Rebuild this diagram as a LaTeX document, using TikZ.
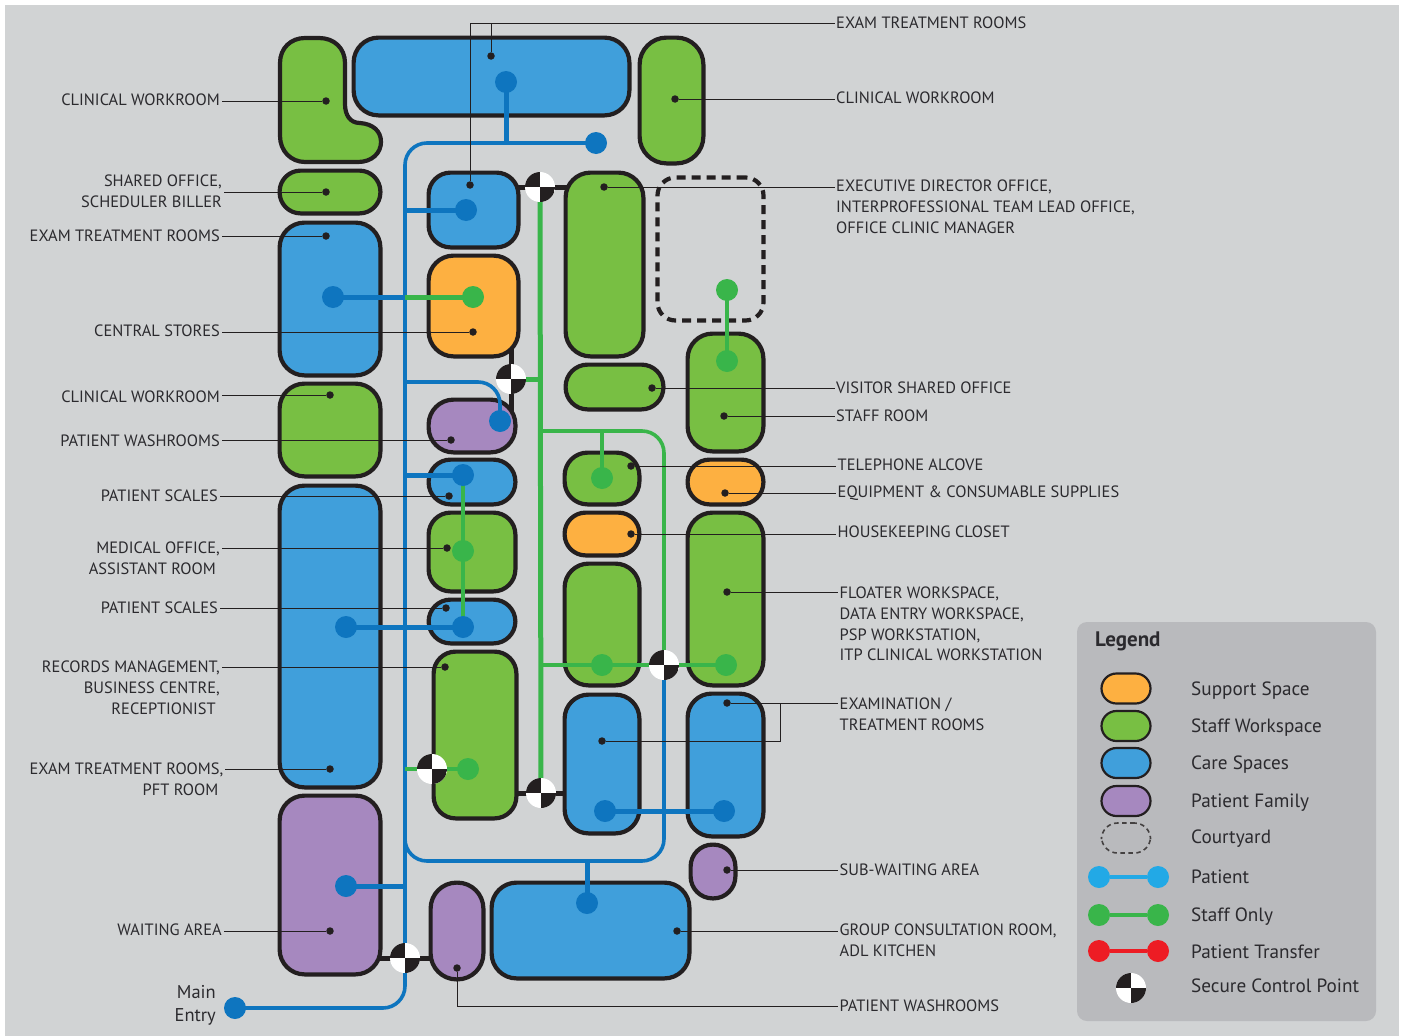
\documentclass[tikz,border=0pt]{standalone}
\usepackage{fontspec}
\setmainfont{PT Sans}
\usetikzlibrary{calc}
\definecolor{bgc}{HTML}{D1D3D4}
\definecolor{ink}{HTML}{231F20}
\definecolor{txt}{HTML}{2B2A2E}
\definecolor{gspace}{HTML}{78BF43}
\definecolor{bspace}{HTML}{409FDB}
\definecolor{ospace}{HTML}{FDB041}
\definecolor{pspace}{HTML}{A688BF}
\definecolor{bline}{HTML}{0E75BF}
\definecolor{gline}{HTML}{39B54A}
\definecolor{cyan}{HTML}{22A9E6}
\definecolor{redl}{HTML}{ED1C24}
\definecolor{legbg}{HTML}{B9BABD}
\pgfdeclarelayer{stubs}\pgfdeclarelayer{rooms}\pgfdeclarelayer{conn}
\pgfsetlayers{stubs,rooms,conn,main}
\tikzset{
 roombox/.style={draw=ink,line width=4.2pt,inner sep=0pt,outer sep=0pt,rectangle},
 legswatch/.style={draw=ink,line width=2.2pt,inner sep=0pt,outer sep=0pt,rectangle,minimum width=49pt,minimum height=30pt,rounded corners=15pt},
 bdot/.style={circle,fill=bline,inner sep=0pt,minimum size=22pt},
 gdot/.style={circle,fill=gline,inner sep=0pt,minimum size=22pt},
 ldot/.style={circle,fill=ink,inner sep=0pt,minimum size=7.5pt},
 endc/.style={circle,fill=#1,inner sep=0pt,minimum size=22pt},
 leader/.style={draw=ink,line width=1pt},
 stub/.style={draw=ink,line width=5pt},
 bthin/.style={draw=bline,line width=3.6pt},
 bthick/.style={draw=bline,line width=5pt},
 gthin/.style={draw=gline,line width=3.6pt},
 gthick/.style={draw=gline,line width=5pt},
 scp/.style={circle,fill=white,inner sep=0pt,minimum size=30pt,path picture={
   \fill[ink] (path picture bounding box.center) rectangle (path picture bounding box.north west);
   \fill[ink] (path picture bounding box.center) rectangle (path picture bounding box.south east);}},
 lab/.style={inner ysep=0pt,inner xsep=1.5pt,text=txt,font=\fontsize{16.4}{20.6}\selectfont},
 leg/.style={inner sep=0pt,anchor=base west,text=txt,font=\fontsize{19.2}{22}\selectfont},
}
\newcommand{\room}[7]{%
 \pgfmathsetmacro\myw{#4-#2-3.2}\pgfmathsetmacro\myh{#5-#3-3.2}%
 \pgfmathsetmacro\mycx{(#2+#4)/2}\pgfmathsetmacro\mycy{(#3+#5)/2}%
 \node[roombox,fill=#7,minimum width=\myw pt,minimum height=\myh pt,rounded corners=#6 pt] (#1) at (\mycx,\mycy) {};}
\newcommand{\lblL}[4]{\node[lab,anchor=north east,align=right] (#1) at (#2,#3-6) {#4};}
\newcommand{\lblR}[4]{\node[lab,anchor=north west,align=left] (#1) at (#2,#3-6) {#4};}
\begin{document}
\begin{tikzpicture}[x=1pt,y=-1pt]
\useasboundingbox (0,0) rectangle (1403,1036);
\begin{pgfonlayer}{stubs}
\fill[white] (0,0) rectangle (1403,1036);
\fill[bgc] (5,5) rectangle (1399,1036);
\end{pgfonlayer}
\begin{pgfonlayer}{rooms}
% L-shaped clinical workroom
\path[draw=ink,fill=gspace,line width=4.2pt] (280,63) .. controls (280,48) and (291,38) .. (305,38) -- (319,38) .. controls (334,38) and (345,48) .. (345,63) -- (345,104)
  .. controls (345,115) and (350,123) .. (360,123) .. controls (373,124) and (381,131) .. (381,142)
  .. controls (381,153) and (372,162) .. (358,162) -- (305,162) .. controls (291,162) and (280,151) .. (280,136) -- cycle;
\room{examtop}{352}{36}{631}{117}{25}{bspace}
\room{clinr}{638}{36}{705}{165}{27}{gspace}
\room{shared}{278}{169}{382}{215}{21}{gspace}
\room{examl}{278}{221}{382}{377}{25}{bspace}
\room{blueA}{427}{171}{520}{249}{22}{bspace}
\room{stores}{427}{254}{520}{358}{25}{ospace}
\room{exec}{564}{171}{645}{358}{25}{gspace}
\room{visitor}{564}{363}{665}{411}{22}{gspace}
\room{staff}{686}{332}{765}{453}{25}{gspace}
\room{clinl}{278}{382}{382}{478}{25}{gspace}
\room{pwash}{427}{398}{517}{454}{25}{pspace}
\room{scalesA}{427}{458}{517}{506}{22}{bspace}
\room{medical}{427}{511}{517}{593}{22}{gspace}
\room{scalesB}{427}{598}{517}{645}{22}{bspace}
\room{records}{432}{650}{518}{820}{22}{gspace}
\room{bigblue}{278}{484}{382}{789}{25}{bspace}
\room{waiting}{278}{794}{382}{976}{25}{pspace}
\room{phone}{563}{451}{641}{506}{23}{gspace}
\room{house}{563}{511}{641}{557}{21}{ospace}
\room{gmid}{563}{562}{641}{687}{24}{gspace}
\room{equip}{686}{458}{765}{506}{22}{ospace}
\room{floater}{686}{511}{765}{687}{25}{gspace}
\room{examA}{563}{693}{641}{835}{24}{bspace}
\room{examB}{686}{692}{765}{838}{24}{bspace}
\room{subwait}{689}{843}{737}{900}{22}{pspace}
\room{pwashB}{429}{881}{485}{981}{26}{pspace}
\room{group}{490}{881}{691}{980}{25}{bspace}
\node[roombox,fill=none,dash pattern=on 9pt off 6pt,minimum width=106pt,minimum height=143pt,rounded corners=18pt] (court) at (710.5,249) {};
\end{pgfonlayer}
% route dots
\node[bdot] (e1) at (235,1008) {};
\node[bdot] (b1) at (596,143) {};
\node[bdot] (b2) at (506,82) {};
\node[bdot] (b3) at (466,210) {};
\node[bdot] (b4) at (333,297) {};
\node[bdot] (b5) at (500,421) {};
\node[bdot] (b6) at (463,475) {};
\node[bdot] (b7) at (463,627) {};
\node[bdot] (b8) at (346,627) {};
\node[bdot] (b9) at (605,811) {};
\node[bdot] (b10) at (724,811) {};
\node[bdot] (b11) at (346,886) {};
\node[bdot] (b12) at (587,903) {};
\node[gdot] (g1) at (473,297) {};
\node[gdot] (g2) at (463,551) {};
\node[gdot] (g3) at (727,290) {};
\node[gdot] (g4) at (727,361) {};
\node[gdot] (g5) at (602,478) {};
\node[gdot] (g6) at (602,665) {};
\node[gdot] (g7) at (726,665) {};
\node[gdot] (g8) at (468,769) {};
% junctions
\coordinate (jA) at (405,1008);
\coordinate (jB) at (405,143);
\coordinate (jC) at (405,861);
\coordinate (jD) at (664,861);
\coordinate (jE) at (405,382);
\coordinate (jF) at (500,382);
\coordinate (jG) at (541,431);
\coordinate (jH) at (664,431);
% secure control points
\coordinate (s1) at (540,187);
\coordinate (s2) at (511,379);
\coordinate (s3) at (664,665);
\coordinate (s4) at (432,769);
\coordinate (s5) at (541,793);
\coordinate (s6) at (405,958);
\begin{pgfonlayer}{stubs}
\draw[stub] (blueA.center |- s1) -- (exec.center |- s1);
\draw[stub] (s2 |- stores.center) -- (s2 |- pwash.center);
\draw[stub] (records.center |- s5) -- (examA.center |- s5);
\draw[stub] (waiting.center |- s6) -- (pwashB.center |- s6);
\end{pgfonlayer}
\begin{pgfonlayer}{conn}
\draw[bthin,rounded corners=22pt] (e1.center) -- (jA) -- (jB) -- (b1.center);
\draw[bthin,rounded corners=22pt] (s6 |- jC) ++(0,-22) -- (jC) -- (jD) -- (s3);
\draw[bthick] (b2.center) -- (b2.center |- jB);
\draw[bthick] (jB |- b3) -- (b3.center);
\draw[bthick] (b4.center) -- (jB |- b4);
\draw[gthick] (jB |- g1) -- (g1.center);
\draw[bthin,rounded corners=22pt] (jE) -- (jF) -- (b5.center);
\draw[bthick] (jB |- b6) -- (b6.center);
\draw[bthick] (b8.center) -- (b7.center);
\draw[bthick] (b9.center) -- (b10.center);
\draw[bthick] (b11.center) -- (jB |- b11);
\draw[bthick] (b12.center) -- (b12.center |- jC);
\draw[gthin] (b6.center) -- (b7.center);
\draw[gthick] (s1) -- (s5);
\draw[gthick] (s2) -- (s1 |- s2);
\draw[gthin,rounded corners=22pt] (jG) -- (jH) -- (s3);
\draw[gthin] (g5.center) -- (g5.center |- jG);
\draw[gthin] (s1 |- s3) -- (g7.center);
\draw[gthin,line width=4.5pt] (g3.center) -- (g4.center);
\draw[gthin] (jB |- s4) -- (g8.center);
\end{pgfonlayer}
% leader end dots
\node[ldot] (d1) at (470,185) {};
\node[ldot] (d2) at (491,56) {};
\node[ldot] (d3) at (326,101) {};
\node[ldot] (d4) at (675,99) {};
\node[ldot] (d5) at (326,192) {};
\node[ldot] (d6) at (326,236) {};
\node[ldot] (d7) at (473,332) {};
\node[ldot] (d8) at (330,395) {};
\node[ldot] (d9) at (451,440) {};
\node[ldot] (d10) at (449,496) {};
\node[ldot] (d11) at (447,548) {};
\node[ldot] (d12) at (446,608) {};
\node[ldot] (d13) at (445,667) {};
\node[ldot] (d14) at (330,769) {};
\node[ldot] (d15) at (330,931) {};
\node[ldot] (d16) at (604,187) {};
\node[ldot] (d17) at (652,388) {};
\node[ldot] (d18) at (724,416) {};
\node[ldot] (d19) at (631,466) {};
\node[ldot] (d20) at (725,493) {};
\node[ldot] (d21) at (631,534) {};
\node[ldot] (d22) at (727,592) {};
\node[ldot] (d23) at (727,703) {};
\node[ldot] (d24) at (602,741) {};
\node[ldot] (d25) at (727,870) {};
\node[ldot] (d26) at (677,931) {};
\node[ldot] (d27) at (457,968) {};
% labels left
\lblL{l3}{221.5}{100}{CLINICAL WORKROOM}
\lblL{l5}{223.5}{181}{SHARED OFFICE,\\SCHEDULER BILLER}
\lblL{l6}{221.5}{236}{EXAM TREATMENT ROOMS}
\lblL{l7}{221.5}{331}{CENTRAL STORES}
\lblL{l8}{221.5}{397}{CLINICAL WORKROOM}
\lblL{l9}{221.5}{441}{PATIENT WASHROOMS}
\lblL{l10}{219.5}{496}{PATIENT SCALES}
\lblL{l11}{221.5}{548}{MEDICAL OFFICE,\hspace*{0pt}\\ASSISTANT ROOM\hspace*{4pt}}
\lblL{l12}{219.5}{608}{PATIENT SCALES}
\lblL{l13}{221.5}{667}{RECORDS MANAGEMENT,\\BUSINESS CENTRE,\\RECEPTIONIST\hspace*{4pt}}
\lblL{l14}{225}{769}{EXAM TREATMENT ROOMS,\\PFT ROOM\hspace*{5pt}}
\lblL{l15}{223.5}{930}{WAITING AREA}
% labels right
\lblR{r1}{834.5}{23}{EXAM TREATMENT ROOMS}
\lblR{r4}{834.5}{98}{CLINICAL WORKROOM}
\lblR{r16}{834.5}{186}{EXECUTIVE DIRECTOR OFFICE,\\INTERPROFESSIONAL TEAM LEAD OFFICE,\\OFFICE CLINIC MANAGER}
\lblR{r17}{834.5}{388}{VISITOR SHARED OFFICE}
\lblR{r18}{834.5}{416}{STAFF ROOM}
\lblR{r19}{836}{465}{TELEPHONE ALCOVE}
\lblR{r20}{836}{492}{EQUIPMENT \& CONSUMABLE SUPPLIES}
\lblR{r21}{836}{532}{HOUSEKEEPING CLOSET}
\lblR{r22}{838}{593}{FLOATER WORKSPACE,\\DATA ENTRY WORKSPACE,\\PSP WORKSTATION,\\ITP CLINICAL WORKSTATION}
\lblR{r23}{838}{704}{EXAMINATION /\\TREATMENT ROOMS}
\lblR{r25}{838}{870}{SUB-WAITING AREA}
\lblR{r26}{838}{930}{GROUP CONSULTATION ROOM,\\ADL KITCHEN}
\lblR{r27}{838}{1006}{PATIENT WASHROOMS}
\node[inner sep=0pt,anchor=north east,align=right,text=txt,font=\fontsize{18.5}{23}\selectfont] (entry) at (216,985) {Main\\Entry};
% leaders
\coordinate (tA) at (d1 |- r1.west);
\coordinate (tB) at (d2 |- r1.west);
\draw[leader] (d1) -- (tA) -- (r1.west);
\draw[leader] (d2) -- (tB);
\foreach \a/\b in {d3/l3,d5/l5,d6/l6,d7/l7,d8/l8,d9/l9,d10/l10,d11/l11,d12/l12,d13/l13,d14/l14,d15/l15}{
 \draw[leader] (\a) -- (\a -| \b.east);}
\foreach \a/\b in {d4/r4,d16/r16,d17/r17,d18/r18,d19/r19,d20/r20,d21/r21,d22/r22,d23/r23,d25/r25,d26/r26}{
 \draw[leader] (\a) -- (\a -| \b.west);}
\coordinate (tC) at (780,703);
\draw[leader] (tC) -- (tC |- d24) -- (d24);
\coordinate (tD) at (d27 |- r27.west);
\draw[leader] (d27) -- (tD) -- (r27.west);
% SCP symbols
\node[scp] (S1) at (s1) {};
\node[scp] (S2) at (s2) {};
\node[scp] (S3) at (s3) {};
\node[scp] (S4) at (s4) {};
\node[scp] (S5) at (s5) {};
\node[scp] (S6) at (s6) {};
% legend
\node[fill=legbg,inner sep=0pt,rounded corners=10pt,minimum width=299pt,minimum height=399pt] (legend) at (1226.5,821.5) {};
\node[leg,font=\fontsize{21}{24}\selectfont\bfseries] (legt) at (1095,646) {Legend};
\node[legswatch,fill=ospace] (k1) at (1126,688.5) {};
\node[legswatch,fill=gspace] (k2) at (1126,726) {};
\node[legswatch,fill=bspace] (k3) at (1126,763) {};
\node[legswatch,fill=pspace] (k4) at (1126,801) {};
\node[legswatch,draw=ink!85,dash pattern=on 4.5pt off 3.5pt,line width=1.6pt,rounded corners=16pt] (k5) at (1126,838) {};
\node[endc=cyan] (k6a) at (1099,877) {};
\node[endc=cyan] (k6b) at (1158,877) {};
\node[endc=gline] (k7a) at (1099,915) {};
\node[endc=gline] (k7b) at (1158,915) {};
\node[endc=redl] (k8a) at (1099,951) {};
\node[endc=redl] (k8b) at (1158,951) {};
\draw[draw=cyan,line width=4.5pt] (k6a) -- (k6b);
\draw[draw=gline,line width=4.5pt] (k7a) -- (k7b);
\draw[draw=redl,line width=4.5pt] (k8a) -- (k8b);
\node[scp] (k9) at (1131,988) {};
\node[leg] (t1) at (1191,695) {Support Space};
\node[leg] (t2) at (1191,732) {Staff Workspace};
\node[leg] (t3) at (1191,769) {Care Spaces};
\node[leg] (t4) at (1191,807) {Patient Family};
\node[leg] (t5) at (1191,843) {Courtyard};
\node[leg] (t6) at (1191,883) {Patient};
\node[leg] (t7) at (1191,921) {Staff Only};
\node[leg] (t8) at (1191,958) {Patient Transfer};
\node[leg] (t9) at (1191,992) {Secure Control Point};
\end{tikzpicture}
\end{document}
